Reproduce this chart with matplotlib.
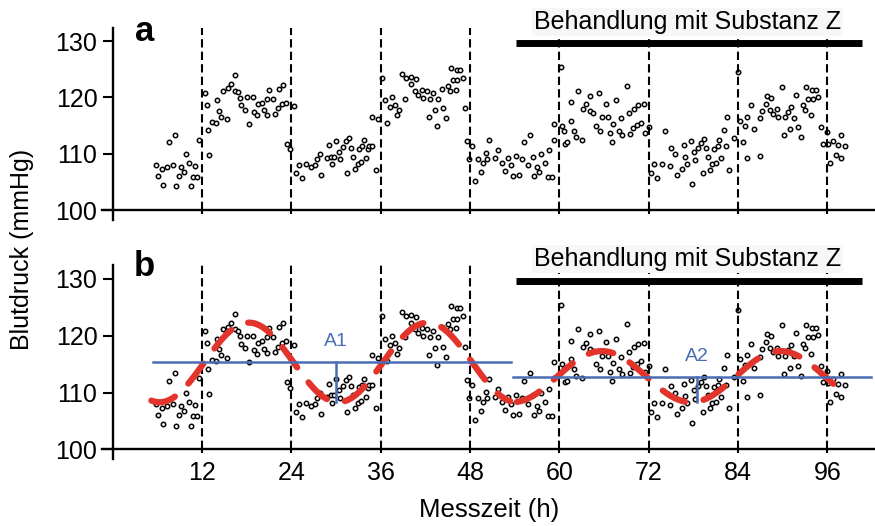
import matplotlib
matplotlib.use("Agg")
import matplotlib.pyplot as plt
import numpy as np

plt.rcParams['font.family'] = ['Liberation Sans', 'DejaVu Sans']

time_h = [
    5.78, 6.05, 6.63, 6.80, 7.34, 7.57, 8.06, 8.33, 8.51, 8.95, 9.22, 9.58, 9.89, 10.29, 10.52, 10.75, 11.10, 11.37, 11.64,
    12.40, 12.63, 12.85, 12.94, 13.30, 13.88, 13.97, 14.24, 14.55, 14.78, 15.36, 15.49, 15.86, 16.43, 16.47, 16.84, 17.06,
    17.28, 17.74, 18.00, 18.27, 18.81, 18.98, 19.35, 19.56, 20.02, 20.33, 20.69, 20.77, 21.04, 21.58, 21.77, 22.21, 22.30,
    22.70, 22.88, 23.29, 23.46, 23.82,
    24.40, 24.58, 25.07, 25.39, 26.01, 26.60, 27.17, 27.48, 27.89, 28.02, 28.75, 29.02, 29.29, 29.46, 29.69, 30.00, 30.41,
    30.54, 30.98, 31.34, 31.52, 31.79, 32.02, 32.24, 32.59, 32.92, 33.05, 33.36, 33.54, 33.77, 34.04, 34.31, 34.48, 34.81,
    34.81, 35.33, 35.68,
    36.22, 36.58, 36.89, 37.21, 37.53, 37.89, 38.20, 38.47, 38.83, 39.23, 39.45, 40.04, 40.12, 40.75, 40.62, 41.06, 41.52,
    41.73, 42.18, 42.53, 42.67, 43.07, 43.26, 43.53, 43.74, 44.20, 44.41, 44.77, 45.00, 45.26, 45.48, 45.71, 46.11, 46.29,
    46.29, 46.69, 47.10, 47.33, 47.55,
    47.86, 48.23, 48.67, 49.11, 49.43, 49.70, 50.10, 50.28, 50.54, 51.31, 51.79, 52.29, 52.65, 53.06, 53.50, 53.77, 54.17,
    54.54, 55.02, 55.25, 55.79, 56.01, 56.42, 56.63, 56.96, 57.31, 57.58, 58.04, 58.44, 58.57, 59.02, 59.33, 59.33,
    60.23, 60.32, 60.59, 60.77, 61.04, 61.54, 61.61, 61.94, 62.29, 62.48, 63.06, 63.15, 63.55, 64.13, 64.13, 64.57, 64.97,
    65.29, 65.47, 65.74, 66.31, 66.54, 66.77, 67.04, 67.17, 67.61, 68.02, 68.33, 68.42, 69.05, 69.36, 69.45, 69.94, 69.99,
    70.39, 70.57, 70.97, 71.38, 71.55,
    72.09, 72.28, 72.76, 73.08, 73.75, 74.24, 74.91, 75.00, 75.54, 75.76, 76.44, 76.71, 76.92, 77.15, 77.69, 77.82, 78.05,
    78.23, 78.67, 79.03, 79.26, 79.47, 79.70, 79.93, 80.28, 80.51, 80.74, 81.09, 81.27, 81.49, 81.71, 82.08, 82.43, 82.48,
    82.85, 83.46,
    84.04, 84.31, 84.63, 84.94, 85.21, 85.25, 85.78, 86.15, 86.91, 86.91, 87.18, 87.72, 87.86, 88.34, 88.48, 88.75, 89.24,
    89.42, 89.92, 90.19, 90.36, 90.72, 90.95, 91.17, 91.53, 91.76, 92.11, 92.48, 92.70, 92.97, 93.15, 93.42, 93.86, 94.00,
    94.09, 94.46, 94.81, 95.08, 95.35,
    95.94, 96.02, 96.34, 96.82, 97.18, 97.41, 97.81, 97.89, 98.43,
]
bp_mmhg = [
    108.0, 106.1, 107.3, 104.5, 107.7, 112.0, 108.0, 113.4, 104.2, 106.1, 107.6, 106.8, 109.9, 108.3, 104.2, 105.8, 107.9, 105.9, 112.5,
    120.8, 118.7, 114.2, 109.7, 115.7, 115.5, 119.5, 117.6, 116.6, 121.1, 116.1, 121.6, 122.3, 123.9, 121.2, 120.9, 119.9,
    118.6, 117.8, 120.0, 115.3, 120.0, 117.4, 116.8, 118.8, 119.0, 117.7, 119.8, 116.9, 121.4, 119.7, 117.1, 118.1, 121.5,
    118.8, 122.2, 119.0, 111.8, 110.8,
    118.4, 106.5, 108.0, 105.7, 108.2, 107.7, 108.0, 109.1, 109.9, 106.2, 109.2, 111.5, 109.5, 108.1, 109.5, 112.3, 110.4,
    109.0, 111.2, 112.2, 106.6, 112.8, 111.1, 109.5, 107.3, 108.2, 110.9, 108.5, 111.3, 112.4, 109.3, 110.8, 111.4, 111.3,
    116.6, 107.2, 116.1,
    123.5, 119.5, 115.5, 118.3, 120.0, 118.7, 116.8, 117.8, 124.2, 119.7, 123.4, 122.3, 123.6, 123.3, 121.2, 120.4, 121.3,
    119.9, 121.1, 116.6, 119.8, 120.8, 117.8, 114.9, 119.7, 121.5, 118.1, 116.3, 122.0, 121.1, 125.2, 123.0, 121.4, 123.0,
    124.8, 124.8, 123.5, 118.1, 112.2,
    109.1, 111.4, 105.2, 109.1, 106.7, 108.3, 110.1, 109.1, 112.4, 109.3, 110.6, 108.3, 107.0, 109.2, 108.0, 106.1, 109.6,
    106.3, 109.1, 112.0, 108.0, 113.4, 109.5, 106.1, 107.6, 106.8, 109.9, 108.3, 105.9, 110.7, 105.9, 112.5, 115.3,
    125.4, 115.0, 114.1, 111.8, 112.1, 119.1, 115.9, 114.1, 113.0, 121.1, 112.5, 118.0, 118.8, 120.3, 117.6, 117.3, 115.0,
    120.8, 114.1, 116.5, 118.9, 116.5, 113.7, 112.1, 115.2, 119.5, 114.1, 116.3, 113.3, 122.1, 117.2, 113.5, 114.5, 118.0,
    115.1, 118.6, 115.5, 118.8, 113.7,
    114.7, 106.6, 108.1, 105.7, 108.2, 114.1, 107.9, 111.1, 109.9, 106.2, 107.3, 111.5, 109.4, 108.1, 112.2, 104.7, 110.4,
    108.9, 111.1, 111.9, 106.5, 112.7, 111.1, 109.5, 107.2, 108.2, 110.9, 108.4, 111.4, 112.4, 109.3, 114.3, 111.4, 116.6,
    107.2, 112.8,
    124.5, 115.9, 112.1, 114.9, 109.3, 116.6, 118.6, 114.4, 116.3, 109.6, 117.6, 118.9, 120.3, 117.8, 119.9, 117.1, 117.9,
    116.5, 121.9, 113.3, 116.5, 117.4, 114.4, 118.3, 116.4, 120.4, 114.7, 113.0, 118.6, 117.8, 121.9, 119.7, 116.8, 121.4,
    119.7, 121.4, 120.1, 114.7, 111.8,
    113.8, 111.7, 108.3, 112.3, 109.8, 111.5, 113.3, 109.2, 111.3,
]

day_marks = [12, 24, 36, 48, 60, 72, 84, 96]
y_ticks = [100, 110, 120, 130]

# Behandlung
treat_start = 54.2
treat_end = 100.7
treat_label = 'Behandlung mit Substanz Z'

# Cosinor (vor / unter Behandlung)
fit_start = [5.2, 54.3]
fit_end = [53.4, 98.4]
mesor = [115.3, 112.8]
amplitude = [7.0, 4.5]
acrophase = [18.3, 65.7]
period = 24.0
mesor_start = [5.4, 53.8]
mesor_end = [53.5, 101.8]
amp_pos = [30.0, 78.5]
amp_names = ['A1', 'A2']
amp_label_y = [119.0, 116.3]

blue = '#4a6db5'
red = '#e2342b'

fig = plt.figure(figsize=(8.75, 5.26), dpi=100)
ax_a = fig.add_axes([0.116, 0.5823, 0.8823, 0.3654])
ax_b = fig.add_axes([0.116, 0.1272, 0.8823, 0.3686])

for ax, name, ny in [(ax_a, 'a', 130.0), (ax_b, 'b', 130.5)]:
    ax.set_xlim(-1.5, 102.2)
    ax.set_ylim(98.3, 132.4)
    for s in ['top', 'right']:
        ax.spines[s].set_visible(False)
    ax.spines['left'].set_position(('data', 0))
    ax.spines['bottom'].set_position(('data', 100))
    ax.spines['left'].set_linewidth(1.7)
    ax.spines['bottom'].set_linewidth(1.7)
    ax.set_xticks(day_marks)
    ax.set_yticks(y_ticks)
    ax.tick_params(axis='y', length=7, width=1.5, pad=4, labelsize=18)
    ax.tick_params(axis='x', length=3, width=1.5, pad=5, labelsize=18)
    ax.set_facecolor('none')

    # Messpunkte
    ax.scatter(time_h, bp_mmhg, s=10, facecolors='white', edgecolors='black',
               linewidths=1.1, zorder=2)
    # Tagesmarken
    ax.vlines(day_marks, 100, 132.4, colors='black', linewidth=1.5,
              linestyles=(0, (4, 2)), zorder=3)

    # Behandlungsbalken
    ax.plot([treat_start, treat_end], [129.7, 129.7], color='black', lw=5,
            solid_capstyle='butt', clip_on=False, zorder=4)
    ax.text(77.2, 132.2, treat_label, ha='center', va='baseline', fontsize=18,
            bbox=dict(facecolor='#f7f7f7', edgecolor='none', pad=1.5),
            clip_on=False, zorder=5)

    ax.text(4.3, ny, name, ha='center', va='baseline', fontsize=25,
            fontweight='bold')

ax_a.tick_params(axis='x', labelbottom=False)

# Panel b: Cosinor-Kurven, MESOR, Amplituden
for i in range(2):
    t = np.linspace(fit_start[i], fit_end[i], 300)
    curve = mesor[i] + amplitude[i] * np.cos(2 * np.pi * (t - acrophase[i]) / period)
    ax_b.plot(t, curve, color=red, lw=4.5, linestyle=(0, (4.0, 3.0)),
              dash_capstyle='round', zorder=5)
    ax_b.plot([mesor_start[i], mesor_end[i]], [mesor[i], mesor[i]], color=blue,
              lw=1.8, zorder=6, clip_on=False)
    ax_b.plot([amp_pos[i], amp_pos[i]], [mesor[i], mesor[i] - amplitude[i]],
              color=blue, lw=1.8, zorder=6)
    ax_b.text(amp_pos[i], amp_label_y[i], amp_names[i], color=blue,
              ha='center', va='center', fontsize=14, zorder=6)

fig.text(22 / 875, 1 - 249.5 / 526, 'Blutdruck (mmHg)', rotation=90,
         ha='center', va='center', fontsize=18)
fig.text(489 / 875, 1 - 510 / 526, 'Messzeit (h)', ha='center', va='center',
         fontsize=18.5)

fig.savefig('out.png', dpi=100)
